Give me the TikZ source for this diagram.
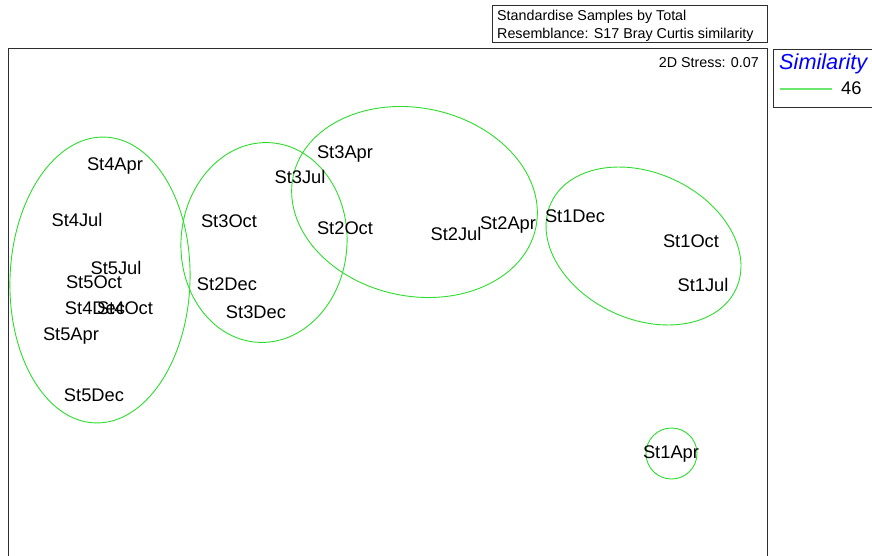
\documentclass[tikz,border=0pt]{standalone}
\usepackage{fontspec}
\setmainfont{Liberation Sans}
\definecolor{simgreen}{RGB}{45,220,45}
\definecolor{framegray}{RGB}{45,45,45}

\begin{document}
\begin{tikzpicture}[x=1pt,y=-1pt,
  smp/.style={inner sep=0pt,font=\fontsize{18.3}{20}\selectfont,text height=13.1pt,text depth=0pt},
  note/.style={inner sep=0pt,font=\fontsize{14.3}{16}\selectfont,text height=10.2pt,text depth=0pt},
  grp/.style={draw=simgreen,line width=0.9pt},
  box/.style={draw=framegray,line width=1pt}]
\useasboundingbox (0,0) rectangle (872,556);
\draw[box] (8,556) -- (8,49) -- (767,49) -- (767,556);
\draw[box] (492,6) rectangle (767,43);
\draw[box] (773,50) -- (873,50);
\draw[box] (773,108) -- (873,108);
\draw[box] (773,50) -- (773,108);
\node[note,anchor=west] (trf) at (497,15) {Standardise Samples by Total};
\node[note,anchor=west] (res) at (497,33) {Resemblance: S17 Bray Curtis similarity};
\node[note,anchor=east] (stress) at (759,62) {2D Stress: 0.07};
\node[inner sep=0pt,anchor=west,text=blue,font=\fontsize{21.7}{24}\selectfont\itshape,text height=15.5pt,text depth=0pt] (simhead) at (779,62) {Similarity};
\coordinate (keya) at (780,89);
\coordinate (keyb) at (832,89);
\draw[grp,draw=simgreen!70,line width=1.6pt] (keya) -- (keyb);
\node[smp,anchor=west] (simval) at (841,88) {46};
\draw[grp,shift={(100,280)},rotate=-2] (0,0) ellipse [x radius=90, y radius=143];
\draw[grp,shift={(264,242.5)},rotate=-4] (0,0) ellipse [x radius=83, y radius=100];
\draw[grp,shift={(414.5,202)},rotate=-12] (0,0) ellipse [x radius=124, y radius=94];
\draw[grp,shift={(643.5,246)},rotate=-25] (0,0) ellipse [x radius=102, y radius=73];
\draw[grp] (671.5,453.5) circle [radius=25.5];
\node[smp] (s4apr) at (115,164) {St4Apr};
\node[smp] (s4jul) at (77,220) {St4Jul};
\node[smp] (s5jul) at (116,268) {St5Jul};
\node[smp] (s5oct) at (94,282) {St5Oct};
\node[smp] (s4dec) at (95,308) {St4Dec};
\node[smp] (s4oct) at (125,308) {St4Oct};
\node[smp] (s5apr) at (71,334) {St5Apr};
\node[smp] (s5dec) at (94,395) {St5Dec};
\node[smp] (s3apr) at (345,152) {St3Apr};
\node[smp] (s3jul) at (300,177) {St3Jul};
\node[smp] (s3oct) at (229,221) {St3Oct};
\node[smp] (s2oct) at (345,228) {St2Oct};
\node[smp] (s2jul) at (456,234) {St2Jul};
\node[smp] (s2apr) at (508,223) {St2Apr};
\node[smp] (s2dec) at (227,284) {St2Dec};
\node[smp] (s3dec) at (256,312) {St3Dec};
\node[smp] (s1dec) at (575,216) {St1Dec};
\node[smp] (s1oct) at (691,241) {St1Oct};
\node[smp] (s1jul) at (703,285) {St1Jul};
\node[smp] (s1apr) at (671,452) {St1Apr};
\end{tikzpicture}
\end{document}
